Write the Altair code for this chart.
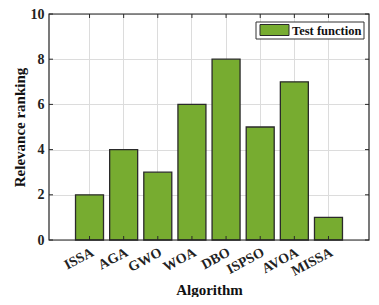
import altair as alt
import pandas as pd

algorithms = ["ISSA", "AGA", "GWO", "WOA", "DBO", "ISPSO", "AVOA", "MISSA"]
ranking = [2, 4, 3, 6, 8, 5, 7, 1]
series_name = "Test function"
y_ticks = [0, 2, 4, 6, 8, 10]

W, H = 320, 226
FONT = "Liberation Serif"
GREEN = "#77AC30"
EDGE = "#2a2a2a"

df = pd.DataFrame({"alg": algorithms, "rank": ranking, "series": series_name})
dt = pd.DataFrame({"rank": y_ticks})
dleg = pd.DataFrame({"series": [series_name]})

xscale = alt.Scale(domain=algorithms, paddingInner=0.18, paddingOuter=0.777)
yscale = alt.Scale(domain=[0, 10], nice=False)

xaxis = alt.Axis(title="Algorithm", labelAngle=-28, labelAlign="right",
                 labelBaseline="top", labelPadding=5, tickSize=0,
                 domain=False, grid=True, gridColor="#dcdcdc",
                 labelFont=FONT, labelFontWeight="bold", labelFontSize=14,
                 labelColor="#222", titleFont=FONT, titleFontWeight="bold",
                 titleFontSize=15, titleColor="#111", titleY=54,
                 titleBaseline="alphabetic")
yaxis = alt.Axis(title="Relevance ranking", values=y_ticks, tickSize=0,
                 domain=False, grid=True, gridColor="#dcdcdc",
                 labelFont=FONT, labelFontWeight="bold", labelFontSize=14,
                 labelColor="#222", labelPadding=5, titleFont=FONT,
                 titleFontWeight="bold", titleFontSize=15, titleColor="#111",
                 titleX=-22, titleY=H / 2, titleBaseline="bottom")

X = alt.X("alg:N", sort=algorithms, scale=xscale, axis=xaxis)
Y = alt.Y("rank:Q", scale=yscale, axis=yaxis)

bars = alt.Chart(df).mark_bar(stroke=EDGE, strokeWidth=1.3, fill=GREEN).encode(x=X, y=Y)

tick_b = alt.Chart(df).mark_rule(color=EDGE, strokeWidth=1).encode(
    x=X, y=alt.value(H), y2=alt.value(H - 4))
tick_t = alt.Chart(df).mark_rule(color=EDGE, strokeWidth=1).encode(
    x=X, y=alt.value(0), y2=alt.value(4))
tick_l = alt.Chart(dt).mark_rule(color=EDGE, strokeWidth=1).encode(
    y=Y, x=alt.value(0), x2=alt.value(4))
tick_r = alt.Chart(dt).mark_rule(color=EDGE, strokeWidth=1).encode(
    y=Y, x=alt.value(W), x2=alt.value(W - 4))
frame = alt.Chart(dleg).mark_rect(fill=None, stroke="#222", strokeWidth=1.2).encode(
    x=alt.value(0), x2=alt.value(W), y=alt.value(0), y2=alt.value(H))

# legend box
leg_box = alt.Chart(dleg).mark_rect(fill="white", stroke="#333", strokeWidth=1).encode(
    x=alt.value(207), x2=alt.value(315), y=alt.value(8), y2=alt.value(25))
leg_sw = alt.Chart(dleg).mark_rect(fill=GREEN, stroke=EDGE, strokeWidth=1).encode(
    x=alt.value(211), x2=alt.value(240), y=alt.value(10.5), y2=alt.value(21.5))
leg_tx = alt.Chart(dleg).mark_text(font=FONT, fontWeight="bold", fontSize=12.5,
                                   color="#111", align="left", baseline="alphabetic").encode(
    text="series:N", x=alt.value(243), y=alt.value(21))

chart = alt.layer(bars, tick_b, tick_t, tick_l, tick_r, frame,
                  leg_box, leg_sw, leg_tx).properties(
    width=W, height=H,
    autosize=alt.AutoSizeParams(type="none"),
    padding={"left": 41, "top": 6, "right": 2, "bottom": 57},
).configure(background="white").configure_view(stroke=None)

chart.save("out.html", embed_options={"renderer": "svg", "actions": False})
